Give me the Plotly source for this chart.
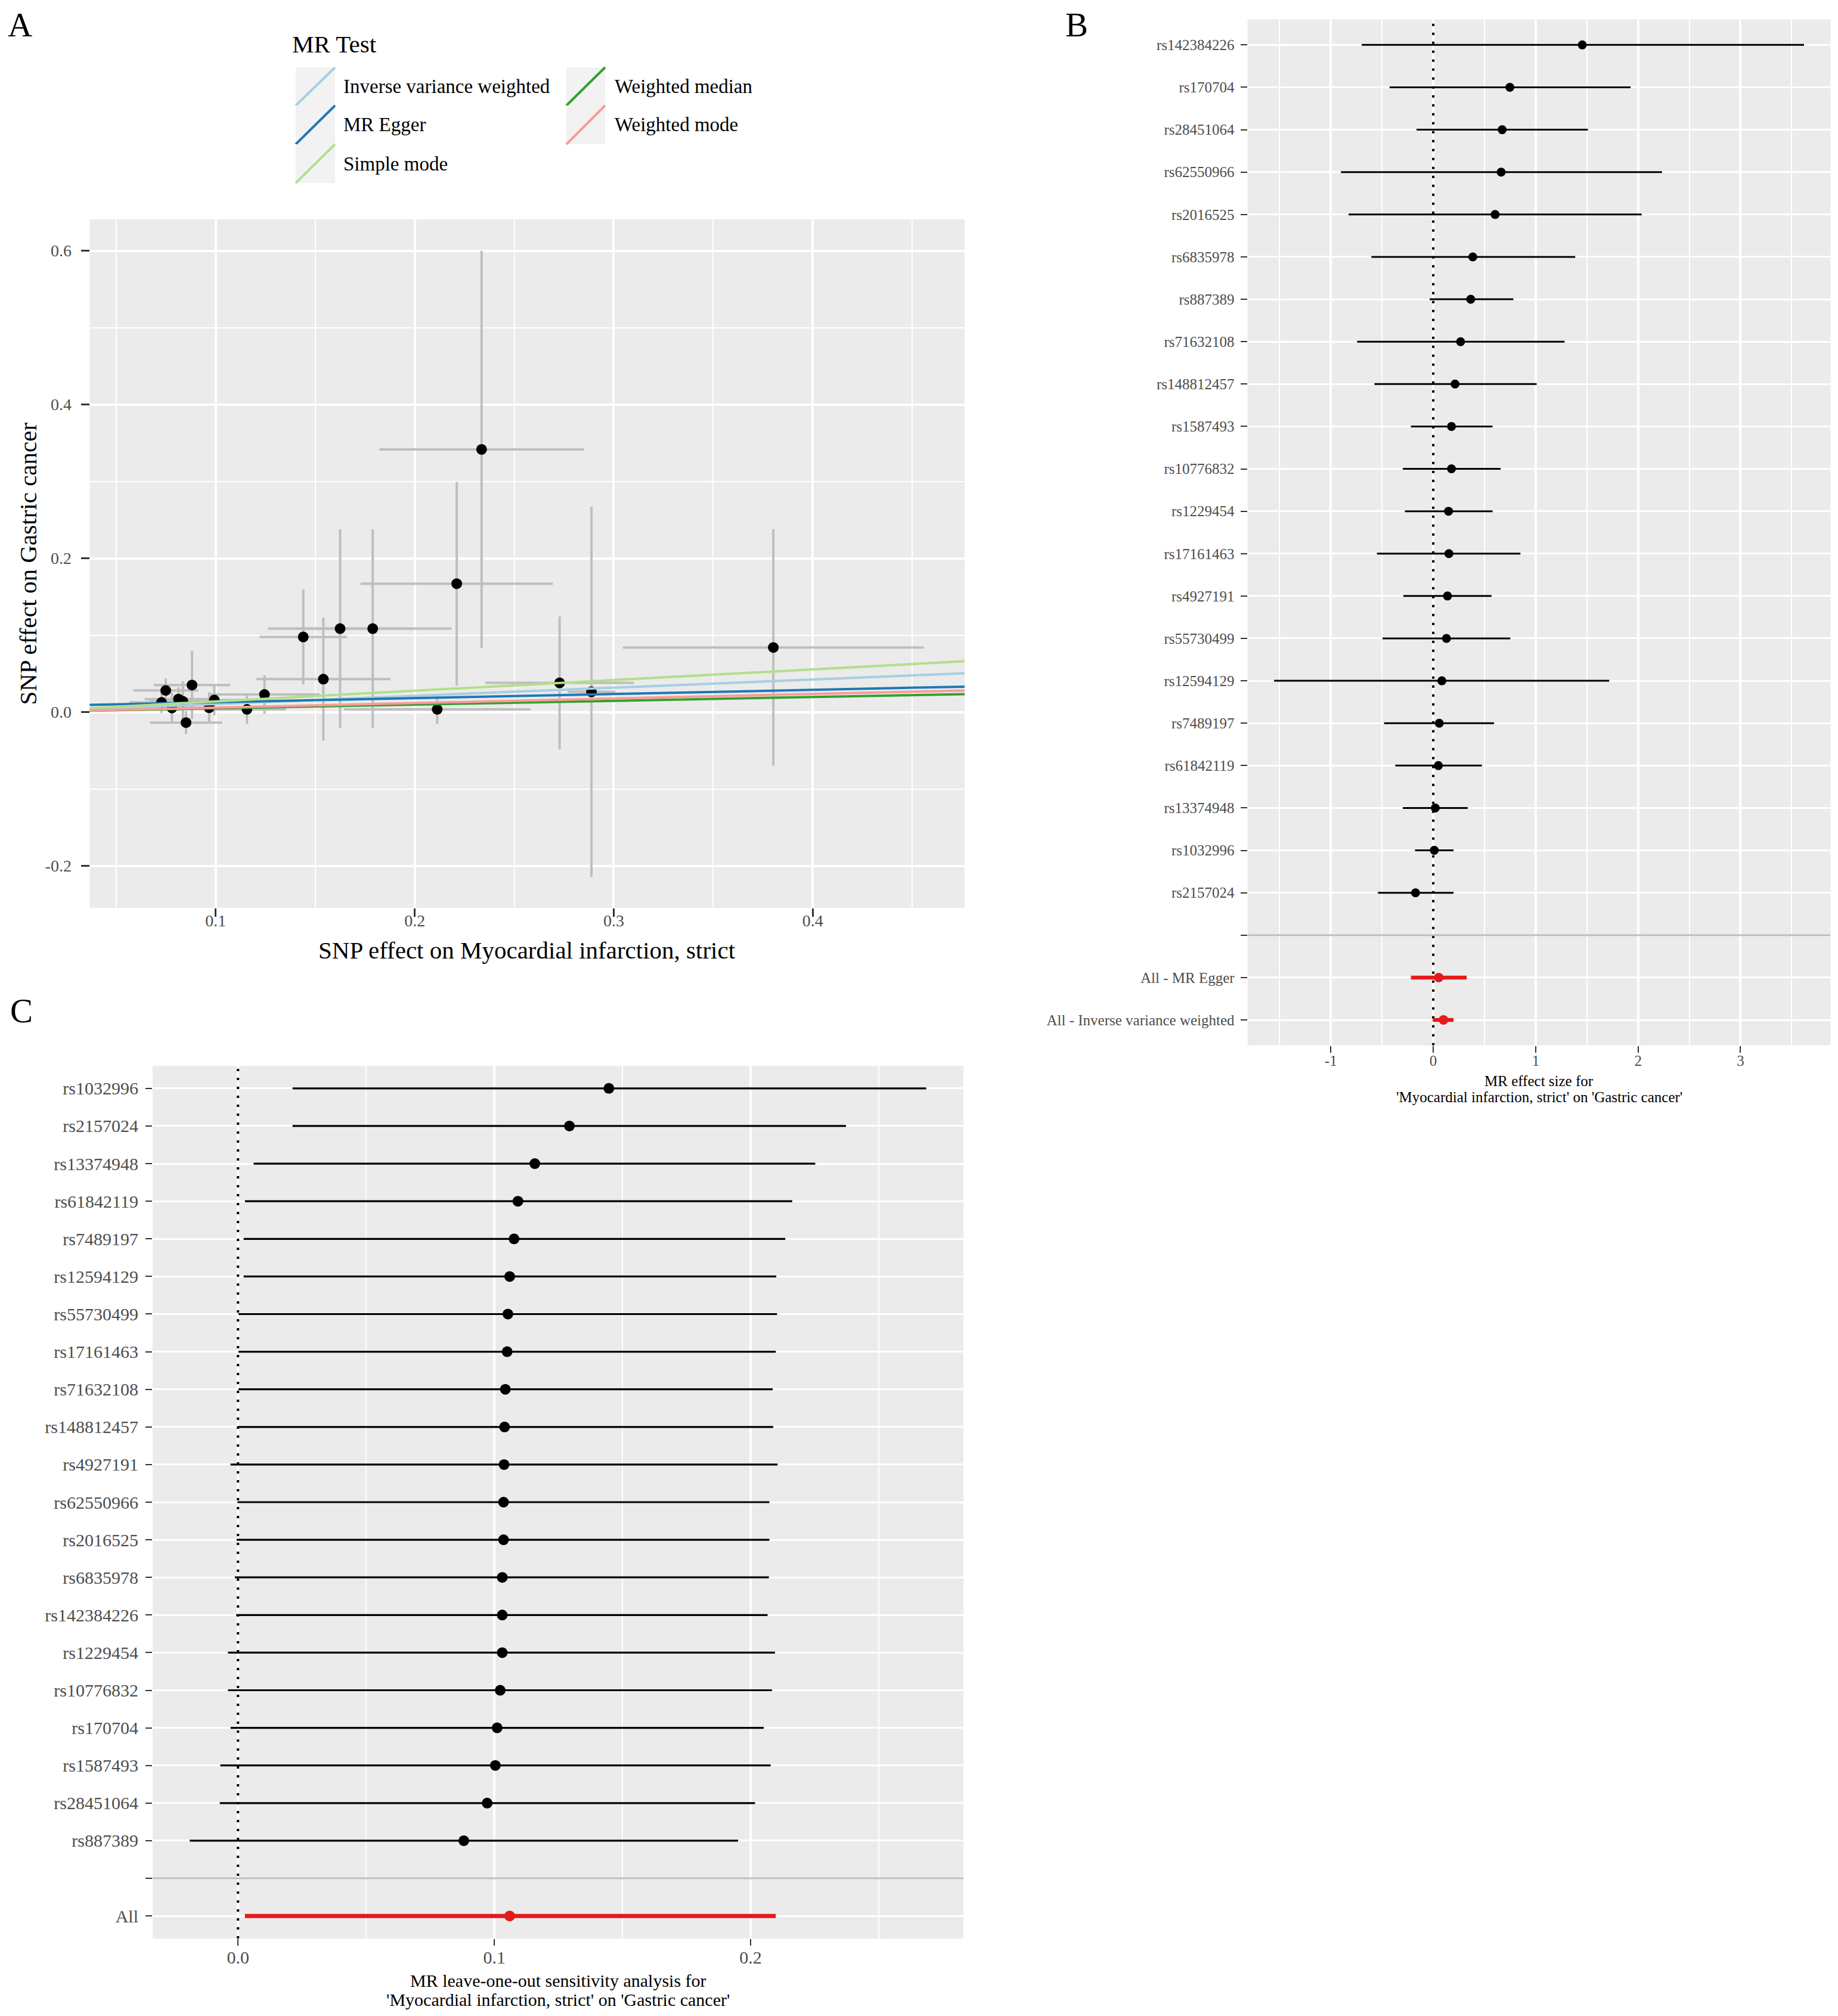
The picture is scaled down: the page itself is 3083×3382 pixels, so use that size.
import plotly.graph_objects as go

W, H = 3083, 3382
OFF = 8  # page body margin compensation
FONT = "Liberation Serif"
TICK_COL = "#4D4D4D"
TICKMARK_COL = "#333333"
BG = "#EBEBEB"

# ---------------- Panel A: scatter data ----------------
a_bx = [0.2336, 0.2211, 0.1625, 0.1789, 0.1440, 0.1541, 0.2113, 0.2728, 0.2888, 0.3802,
        0.1245, 0.1157, 0.0993, 0.0967, 0.0881, 0.0851, 0.0749, 0.0728, 0.0780, 0.0813, 0.0835]
a_by = [0.3416, 0.1670, 0.1086, 0.1086, 0.0977, 0.0429, 0.0036, 0.0380, 0.0264, 0.0841,
        0.0229, 0.0036, 0.0158, 0.0057, 0.0352, -0.0136, 0.0282, 0.0127, 0.0054, 0.0170, 0.0140]
a_sex = [0.0514, 0.0483, 0.0362, 0.0396, 0.0220, 0.0337, 0.0469, 0.0374, 0.0120, 0.0756,
         0.0278, 0.0196, 0.0170, 0.0170, 0.0192, 0.0181, 0.0163, 0.0161, 0.0160, 0.0170, 0.0170]
a_sey = [0.2584, 0.1325, 0.1290, 0.1290, 0.0616, 0.0800, 0.0190, 0.0864, 0.2408, 0.1538,
         0.0250, 0.0190, 0.0200, 0.0200, 0.0445, 0.0150, 0.0155, 0.0140, 0.0200, 0.0153, 0.0260]

methods = ["Inverse variance weighted", "MR Egger", "Simple mode", "Weighted median", "Weighted mode"]
method_colors = ["#A6CEE3", "#1F78B4", "#B2DF8A", "#33A02C", "#FB9A99"]
method_slope = [0.106, 0.054, 0.139, 0.049, 0.059]
method_intercept = [0.0, 0.0074, 0.0, 0.0, 0.0]

a_xticks = [0.1, 0.2, 0.3, 0.4]
a_xticklabels = ["0.1", "0.2", "0.3", "0.4"]
a_yticks = [-0.2, 0.0, 0.2, 0.4, 0.6]
a_yticklabels = ["-0.2", "0.0", "0.2", "0.4", "0.6"]

# ---------------- Panel B: forest plot ----------------
b_snp = ["rs142384226", "rs170704", "rs28451064", "rs62550966", "rs2016525", "rs6835978",
         "rs887389", "rs71632108", "rs148812457", "rs1587493", "rs10776832", "rs1229454",
         "rs17161463", "rs4927191", "rs55730499", "rs12594129", "rs7489197", "rs61842119",
         "rs13374948", "rs1032996", "rs2157024"]
b_b = [1.455, 0.748, 0.673, 0.663, 0.604, 0.386, 0.366, 0.267, 0.213, 0.178, 0.178, 0.149,
       0.153, 0.139, 0.129, 0.084, 0.059, 0.050, 0.020, 0.010, -0.173]
b_lo = [-0.698, -0.426, -0.163, -0.901, -0.827, -0.604, -0.035, -0.743, -0.574, -0.218, -0.297,
        -0.277, -0.550, -0.292, -0.495, -1.554, -0.480, -0.371, -0.297, -0.178, -0.540]
b_hi = [3.620, 1.926, 1.510, 2.233, 2.035, 1.386, 0.782, 1.282, 1.010, 0.579, 0.658, 0.579,
        0.851, 0.569, 0.752, 1.718, 0.594, 0.475, 0.337, 0.198, 0.198]
b_sum_lab = ["All - MR Egger", "All - Inverse variance weighted"]
b_sum_b = [0.054, 0.100]
b_sum_lo = [-0.218, -0.005]
b_sum_hi = [0.327, 0.198]
b_xticks = [-1, 0, 1, 2, 3]
b_xticklabels = ["-1", "0", "1", "2", "3"]

# ---------------- Panel C: leave-one-out ----------------
c_snp = ["rs1032996", "rs2157024", "rs13374948", "rs61842119", "rs7489197", "rs12594129",
         "rs55730499", "rs17161463", "rs71632108", "rs148812457", "rs4927191", "rs62550966",
         "rs2016525", "rs6835978", "rs142384226", "rs1229454", "rs10776832", "rs170704",
         "rs1587493", "rs28451064", "rs887389"]
c_b = [0.1447, 0.1293, 0.1158, 0.1092, 0.1077, 0.1060, 0.1053, 0.1050, 0.1043, 0.1040, 0.1038,
       0.1036, 0.1036, 0.1031, 0.1031, 0.1031, 0.1023, 0.1011, 0.1004, 0.0972, 0.0881]
c_lo = [0.0213, 0.0213, 0.0061, 0.0027, 0.0022, 0.0022, 0.0002, 0.0002, 0.0002, -0.0002, -0.0029,
        -0.0002, -0.0005, -0.0012, -0.0007, -0.0039, -0.0039, -0.0029, -0.0069, -0.0071, -0.0188]
c_hi = [0.2685, 0.2372, 0.2252, 0.2162, 0.2135, 0.2100, 0.2103, 0.2098, 0.2086, 0.2088, 0.2105,
        0.2073, 0.2073, 0.2071, 0.2066, 0.2095, 0.2083, 0.2051, 0.2078, 0.2017, 0.1951]
c_all_lab = ["All"]
c_all_b = [0.106]
c_all_lo = [0.0027]
c_all_hi = [0.2098]
c_xticks = [0.0, 0.1, 0.2]
c_xticklabels = ["0.0", "0.1", "0.2"]

# ---------------- layout geometry (pixels) ----------------
def fx(p):
    return (p - OFF) / W

def fy(p):
    return 1 - (p - OFF) / H

A_box = (150.5, 1618, 368, 1523)
B_box = (2092.6, 3070.5, 32.7, 1753.7)
C_box = (256, 1616, 1788, 3252)
A_xr = [0.0367, 0.4763]
A_yr = [-0.2545, 0.6407]
B_xr = [-1.813, 3.879]
C_xr = [-0.0333, 0.2830]

b_labels = b_snp + [""] + b_sum_lab
b_pos = list(range(len(b_labels)))
b_snp_pos = b_pos[:len(b_snp)]
b_sum_pos = b_pos[len(b_snp) + 1:]
B_yr = [len(b_labels) - 0.4, -0.6]

c_labels = c_snp + [""] + c_all_lab
c_pos = list(range(len(c_labels)))
c_snp_pos = c_pos[:len(c_snp)]
c_all_pos = c_pos[len(c_snp) + 1:]
C_yr = [len(c_labels) - 0.4, -0.6]

fig = go.Figure()

# ---- Panel A traces
fig.add_trace(go.Scatter(
    x=a_bx, y=a_by, mode="markers", xaxis="x", yaxis="y",
    marker=dict(size=1, color="rgba(0,0,0,0)"),
    error_x=dict(type="data", array=a_sex, color="#BEBEBE", thickness=4, width=0),
    error_y=dict(type="data", array=a_sey, color="#BEBEBE", thickness=4, width=0),
    showlegend=False, hoverinfo="skip"))
fig.add_trace(go.Scatter(
    x=a_bx, y=a_by, mode="markers", xaxis="x", yaxis="y",
    marker=dict(size=18, color="black"), showlegend=False))
line_x = [0.0, 0.5]
for name, col, s, b0 in zip(methods, method_colors, method_slope, method_intercept):
    fig.add_trace(go.Scatter(
        x=line_x, y=[b0 + s * v for v in line_x], mode="lines", xaxis="x", yaxis="y",
        line=dict(color=col, width=4), name=name, showlegend=False))

# ---- Panel B traces: reference lines first
fig.add_trace(go.Scatter(x=[0, 0], y=B_yr, mode="lines", xaxis="x2", yaxis="y2",
                         line=dict(color="black", width=4, dash="4px,11px"),
                         showlegend=False, hoverinfo="skip"))
fig.add_trace(go.Scatter(x=B_xr, y=[len(b_snp), len(b_snp)], mode="lines", xaxis="x2", yaxis="y2",
                         line=dict(color="#BEBEBE", width=3), showlegend=False, hoverinfo="skip"))
fig.add_trace(go.Scatter(
    x=b_b, y=b_snp_pos, mode="markers", xaxis="x2", yaxis="y2",
    marker=dict(size=15, color="black"),
    error_x=dict(type="data", symmetric=False,
                 array=[h - m for h, m in zip(b_hi, b_b)],
                 arrayminus=[m - l for m, l in zip(b_b, b_lo)],
                 color="black", thickness=3, width=0),
    showlegend=False))
fig.add_trace(go.Scatter(
    x=b_sum_b, y=b_sum_pos, mode="markers", xaxis="x2", yaxis="y2",
    marker=dict(size=16, color="#E41A1C"),
    error_x=dict(type="data", symmetric=False,
                 array=[h - m for h, m in zip(b_sum_hi, b_sum_b)],
                 arrayminus=[m - l for m, l in zip(b_sum_b, b_sum_lo)],
                 color="#E41A1C", thickness=6.5, width=0),
    showlegend=False))

# ---- Panel C traces
fig.add_trace(go.Scatter(x=[0, 0], y=C_yr, mode="lines", xaxis="x3", yaxis="y3",
                         line=dict(color="black", width=4, dash="4px,11px"),
                         showlegend=False, hoverinfo="skip"))
fig.add_trace(go.Scatter(x=C_xr, y=[len(c_snp), len(c_snp)], mode="lines", xaxis="x3", yaxis="y3",
                         line=dict(color="#BEBEBE", width=3), showlegend=False, hoverinfo="skip"))
fig.add_trace(go.Scatter(
    x=c_b, y=c_snp_pos, mode="markers", xaxis="x3", yaxis="y3",
    marker=dict(size=18, color="black"),
    error_x=dict(type="data", symmetric=False,
                 array=[h - m for h, m in zip(c_hi, c_b)],
                 arrayminus=[m - l for m, l in zip(c_b, c_lo)],
                 color="black", thickness=3.2, width=0),
    showlegend=False))
fig.add_trace(go.Scatter(
    x=c_all_b, y=c_all_pos, mode="markers", xaxis="x3", yaxis="y3",
    marker=dict(size=18, color="#E41A1C"),
    error_x=dict(type="data", symmetric=False,
                 array=[h - m for h, m in zip(c_all_hi, c_all_b)],
                 arrayminus=[m - l for m, l in zip(c_all_b, c_all_lo)],
                 color="#E41A1C", thickness=7, width=0),
    showlegend=False))

common = dict(showline=False, zeroline=False, showgrid=True, gridcolor="white",
              ticks="outside", tickcolor=TICKMARK_COL)

fig.update_layout(
    width=W, height=H, margin=dict(l=0, r=0, t=0, b=0),
    paper_bgcolor="white", plot_bgcolor=BG,
    font=dict(family=FONT, color="black"),
    showlegend=False,
    xaxis=dict(domain=[fx(A_box[0]), fx(A_box[1])], range=A_xr, anchor="y",
               tickvals=a_xticks, ticktext=a_xticklabels, gridwidth=3.5, ticklen=14, tickwidth=3,
               tickfont=dict(size=28, color=TICK_COL, family=FONT), ticklabelstandoff=-18,
               minor=dict(dtick=0.05, tick0=0.05, showgrid=True, gridcolor="white", gridwidth=1.8, ticks=""),
               **common),
    yaxis=dict(domain=[fy(A_box[3]), fy(A_box[2])], range=A_yr, anchor="x",
               tickvals=a_yticks, ticktext=a_yticklabels, gridwidth=3.5, ticklen=14, tickwidth=3,
               tickfont=dict(size=28, color=TICK_COL, family=FONT), ticklabelstandoff=10,
               minor=dict(dtick=0.1, tick0=0.1, showgrid=True, gridcolor="white", gridwidth=1.8, ticks=""),
               **common),
    xaxis2=dict(domain=[fx(B_box[0]), fx(B_box[1])], range=B_xr, anchor="y2",
                tickvals=b_xticks, ticktext=b_xticklabels, gridwidth=3.5, ticklen=11, tickwidth=2,
                tickfont=dict(size=25, color=TICK_COL, family=FONT), ticklabelstandoff=-8,
                minor=dict(dtick=1, tick0=0.5, showgrid=True, gridcolor="white", gridwidth=1.8, ticks=""),
                **common),
    yaxis2=dict(domain=[fy(B_box[3]), fy(B_box[2])], range=B_yr, anchor="x2",
                tickvals=b_pos, ticktext=b_labels, gridwidth=3.2, ticklen=11, tickwidth=2,
                tickfont=dict(size=25, color=TICK_COL, family=FONT), ticklabelstandoff=5,
                **common),
    xaxis3=dict(domain=[fx(C_box[0]), fx(C_box[1])], range=C_xr, anchor="y3",
                tickvals=c_xticks, ticktext=c_xticklabels, gridwidth=3.5, ticklen=11, tickwidth=2,
                tickfont=dict(size=30, color=TICK_COL, family=FONT), ticklabelstandoff=-6,
                minor=dict(dtick=0.1, tick0=0.05, showgrid=True, gridcolor="white", gridwidth=1.8, ticks=""),
                **common),
    yaxis3=dict(domain=[fy(C_box[3]), fy(C_box[2])], range=C_yr, anchor="x3",
                tickvals=c_pos, ticktext=c_labels, gridwidth=3.2, ticklen=11, tickwidth=2,
                tickfont=dict(size=30, color=TICK_COL, family=FONT), ticklabelstandoff=6,
                **common),
)

shapes = []
annotations = []
# manual legend for panel A
leg_cols = [(496, 562, 574), (950, 1015, 1029)]
leg_rows = [(113, 177), (177, 242), (242, 307)]
leg_slots = [(0, 0), (0, 1), (0, 2), (1, 0), (1, 1)]
for name, col, (ci, ri) in zip(methods, method_colors, leg_slots):
    x0, x1, tx = leg_cols[ci]
    y0, y1 = leg_rows[ri]
    shapes.append(dict(type="rect", xref="paper", yref="paper",
                       x0=fx(x0), x1=fx(x1), y0=fy(y1), y1=fy(y0),
                       fillcolor="#F2F2F2", line=dict(width=0)))
    shapes.append(dict(type="line", xref="paper", yref="paper",
                       x0=fx(x0), x1=fx(x1), y0=fy(y1), y1=fy(y0),
                       line=dict(color=col, width=4)))
    annotations.append(dict(text=name, xref="paper", yref="paper", x=fx(tx), y=fy((y0 + y1) / 2),
                            xanchor="left", yanchor="middle", showarrow=False,
                            font=dict(size=33, color="black", family=FONT)))
annotations.append(dict(text="MR Test", xref="paper", yref="paper", x=fx(488), y=fy(74),
                        xanchor="left", yanchor="middle", showarrow=False,
                        font=dict(size=41, color="black", family=FONT)))

# panel letters (A and B top-anchored at the figure's top edge so they are not clipped)
for lab, px in [("A", 33), ("B", 1806)]:
    annotations.append(dict(text=lab, xref="paper", yref="paper", x=fx(px), y=1.0,
                            xanchor="center", yanchor="top", showarrow=False,
                            font=dict(size=57, color="black", family=FONT)))
annotations.append(dict(text="C", xref="paper", yref="paper", x=fx(36), y=fy(1695),
                        xanchor="center", yanchor="middle", showarrow=False,
                        font=dict(size=57, color="black", family=FONT)))

# axis titles
annotations.append(dict(text="SNP effect on Myocardial infarction, strict", xref="paper", yref="paper",
                        x=fx((A_box[0] + A_box[1]) / 2), y=fy(1594), xanchor="center", yanchor="middle",
                        showarrow=False, font=dict(size=41, color="black", family=FONT)))
annotations.append(dict(text="SNP effect on Gastric cancer", xref="paper", yref="paper",
                        x=fx(46), y=fy((A_box[2] + A_box[3]) / 2), xanchor="center", yanchor="middle",
                        textangle=-90, showarrow=False, font=dict(size=41, color="black", family=FONT)))
for txt, py in [("MR effect size for", 1813), ("'Myocardial infarction, strict' on 'Gastric cancer'", 1840)]:
    annotations.append(dict(text=txt, xref="paper", yref="paper",
                            x=fx((B_box[0] + B_box[1]) / 2), y=fy(py), xanchor="center", yanchor="middle",
                            showarrow=False, font=dict(size=25, color="black", family=FONT)))
for txt, py in [("MR leave-one-out sensitivity analysis for", 3322),
                ("'Myocardial infarction, strict' on 'Gastric cancer'", 3354)]:
    annotations.append(dict(text=txt, xref="paper", yref="paper",
                            x=fx((C_box[0] + C_box[1]) / 2), y=fy(py), xanchor="center", yanchor="middle",
                            showarrow=False, font=dict(size=30, color="black", family=FONT)))

fig.update_layout(shapes=shapes, annotations=annotations)
fig.write_html("out.html")
